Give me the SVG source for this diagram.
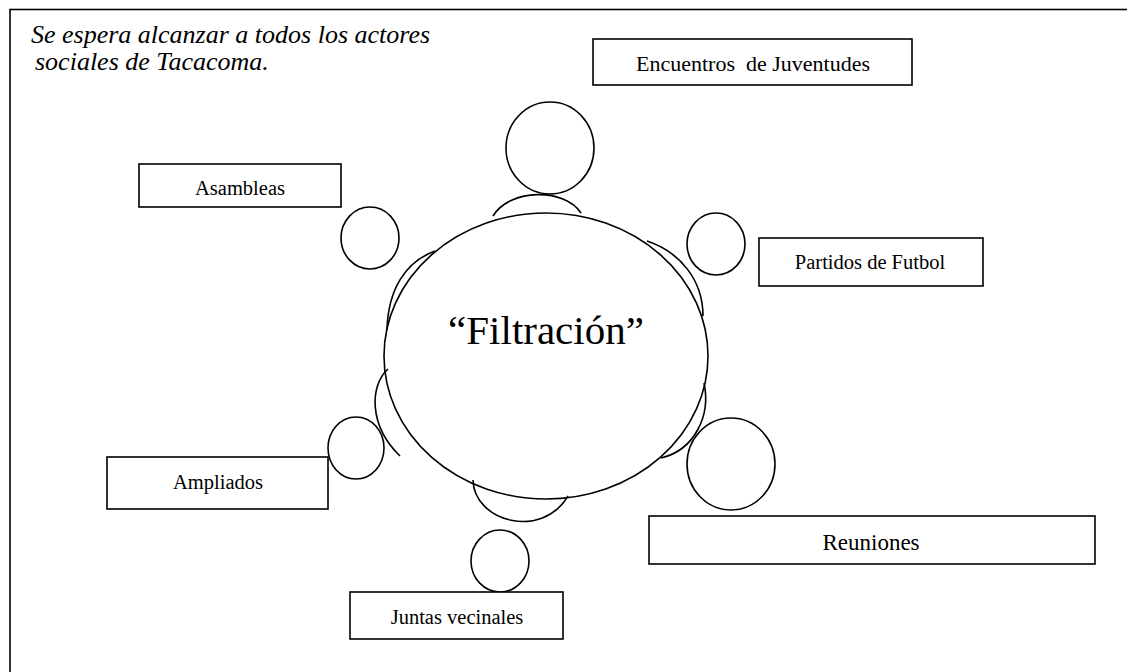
<svg xmlns="http://www.w3.org/2000/svg" width="1127" height="672" viewBox="0 0 1127 672">
<style>
.ln{fill:none;stroke:#000;stroke-width:1.6}
.bx{fill:#fff;stroke:#000;stroke-width:1.6}
.lb{font-family:"Liberation Serif","Times New Roman",serif;font-size:20.5px;fill:#000;text-anchor:middle}
.it{font-family:"Liberation Serif","Times New Roman",serif;font-size:26px;font-style:italic;fill:#000}
</style>
<rect width="1127" height="672" fill="#fff"/>
<rect x="10" y="9.5" width="1200" height="700" class="ln"/>
<g id="intro">
<text class="it" x="31" y="43">Se espera alcanzar a todos los actores</text>
<text class="it" x="35" y="70">sociales de Tacacoma.</text>
</g>
<g id="table">
<ellipse cx="546" cy="356" rx="162" ry="143" class="ln"/>
<text x="546" y="344" font-family="Liberation Serif, Times New Roman, serif" font-size="41" text-anchor="middle">“Filtración”</text>
</g>
<g id="chairs">
<path class="ln" d="M493,216 C510,188 565,188 581,213"/>
<path class="ln" d="M647,241 C680,252 703,280 703,316"/>
<path class="ln" d="M435,251 C405,262 388,290 387,330"/>
<path class="ln" d="M388,369 C370,385 368,425 400,456"/>
<path class="ln" d="M473,480 C474,522 542,540 568,496"/>
<path class="ln" d="M704,383 C711,415 695,450 661,458"/>
</g>
<g id="encuentros">
<ellipse cx="550" cy="148" rx="44" ry="46" class="ln"/>
<rect x="593" y="39" width="319" height="46" class="bx"/>
<text class="lb" x="753" y="71" style="font-size:22px" xml:space="preserve">Encuentros  de Juventudes</text>
</g>
<g id="asambleas">
<ellipse cx="370" cy="238" rx="29" ry="31" class="ln"/>
<rect x="139" y="164" width="202" height="43" class="bx"/>
<text class="lb" x="240" y="195">Asambleas</text>
</g>
<g id="partidos">
<ellipse cx="716" cy="244" rx="29" ry="31" class="ln"/>
<rect x="759" y="238" width="224" height="48" class="bx"/>
<text class="lb" x="870" y="269">Partidos de Futbol</text>
</g>
<g id="ampliados">
<ellipse cx="356" cy="448" rx="28" ry="31" class="ln"/>
<rect x="107" y="457" width="221" height="52" class="bx"/>
<text class="lb" x="218" y="489">Ampliados</text>
</g>
<g id="juntas">
<ellipse cx="500" cy="561" rx="29" ry="31" class="ln"/>
<rect x="350" y="592" width="213" height="47" class="bx"/>
<text class="lb" x="457" y="624">Juntas vecinales</text>
</g>
<g id="reuniones">
<ellipse cx="731" cy="464" rx="44" ry="46" class="ln"/>
<rect x="649" y="516" width="446" height="48" class="bx"/>
<text class="lb" x="871" y="550" style="font-size:23px">Reuniones</text>
</g>
</svg>
